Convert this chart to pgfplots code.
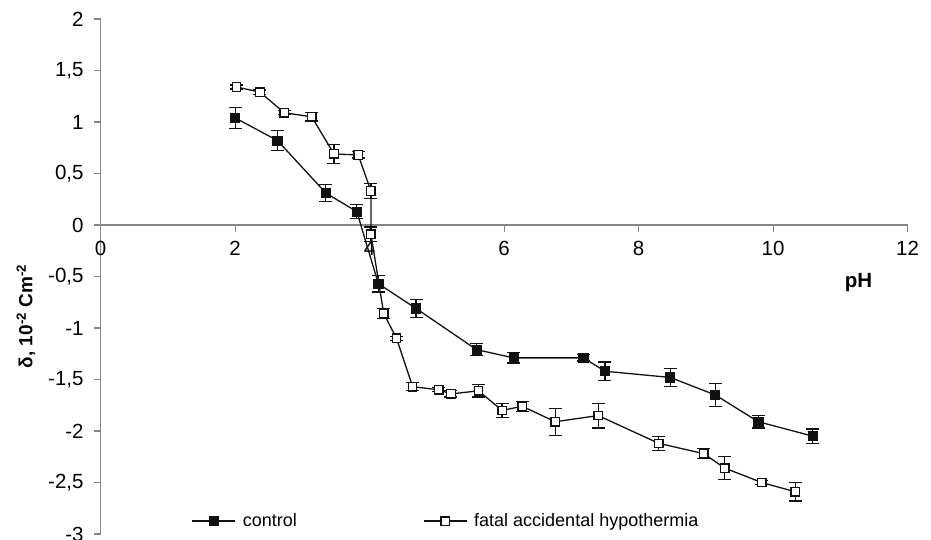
\documentclass[border=0pt]{standalone}
\usepackage{fontspec}
\setmainfont{Liberation Sans}
\usepackage{pgfplots}
\pgfplotsset{compat=1.18}
\definecolor{axisgray}{HTML}{868686}
\definecolor{ink}{HTML}{111111}
\newcommand{\fs}{\fontsize{18}{21.6}\selectfont}
\newcommand{\ft}{\fontsize{20.5}{24}\selectfont}
\newcommand{\fl}{\fontsize{19}{23}\selectfont}
\begin{document}
\begin{tikzpicture}[x=1pt,y=1pt]
\useasboundingbox (0,0) rectangle (931,539);
\begin{axis}[
  at={(100.6pt,5pt)}, anchor=south west,
  scale only axis, width=807pt, height=515pt,
  xmin=0, xmax=12, ymin=-3, ymax=2,
  axis x line=middle, axis y line=left,
  axis line style={-, draw=axisgray, line width=1.3pt},
  hide obscured x ticks=false,
  xtick={0,2,...,12}, ytick={-3,-2.5,...,2},
  tick align=outside, major tick length=6.5pt,
  tick style={draw=axisgray, line width=1.2pt},
  minor tick num=0,
  /pgf/number format/assume math mode=true,
  /pgf/number format/use comma,
  /pgf/number format/1000 sep={},
  ticklabel style={font=\ft},
  xticklabel style={yshift=-6pt},
  yticklabel style={xshift=-7pt},
  xlabel={\textbf{pH}},
  xlabel style={at={(axis cs:11.27,-0.563)}, anchor=center, font=\ft},
  ylabel={\textbf{δ, 10\textsuperscript{-2} Cm\textsuperscript{-2}}},
  ylabel style={at={(axis cs:-1.11,-0.886)}, anchor=center, font=\fl},
  legend columns=2,
  legend style={at={(0.1125,0.025)}, anchor=west, draw=none, fill=none,
    font=\fs, inner sep=0pt,
    /tikz/every odd column/.append style={column sep=5pt},
    /tikz/every even column/.append style={column sep=124pt}},
  legend cell align=left,
  legend image code/.code={%
    \draw[mark repeat=2,mark phase=2,#1] plot coordinates {(0pt,0pt)(21.5pt,0pt)(43pt,0pt)};},
  error bars/y dir=both, error bars/y explicit,
  error bars/error bar style={line width=1.2pt, draw=ink},
  error bars/error mark options={rotate=90, mark size=6.5pt, line width=1.2pt, draw=ink},
]
\addplot[draw=ink, line width=1.3pt, mark=square*, mark size=4.6pt,
  mark options={fill=ink, draw=ink, line width=0.8pt, solid}]
  table[x=x, y=y, y error=e] {
x y e
2.00 1.04 0.10
2.63 0.82 0.10
3.35 0.31 0.08
3.81 0.13 0.07
4.13 -0.57 0.08
4.69 -0.81 0.09
5.59 -1.21 0.06
6.14 -1.29 0.05
7.18 -1.29 0.03
7.50 -1.42 0.09
8.47 -1.48 0.09
9.14 -1.65 0.11
9.78 -1.91 0.06
10.59 -2.05 0.07
};
\addlegendentry{control}
\addplot[draw=ink, line width=1.3pt, mark=square*, mark size=4.2pt,
  mark options={fill=white, draw=ink, line width=1.3pt, solid}]
  table[x=x, y=y, y error=e] {
x y e
2.02 1.34 0.02
2.37 1.29 0.02
2.73 1.09 0.02
3.14 1.05 0.04
3.47 0.69 0.09
3.83 0.68 0.03
4.02 0.33 0.07
4.02 -0.09 0.07
4.21 -0.86 0.05
4.40 -1.10 0.02
4.64 -1.57 0.04
5.03 -1.60 0.02
5.21 -1.64 0.03
5.62 -1.61 0.06
5.97 -1.80 0.07
6.27 -1.76 0.05
6.76 -1.91 0.13
7.40 -1.85 0.12
8.30 -2.12 0.07
8.97 -2.22 0.05
9.28 -2.36 0.11
9.83 -2.50 0.02
10.33 -2.59 0.09
};
\addlegendentry{fatal accidental hypothermia}
\end{axis}
\end{tikzpicture}
\end{document}
